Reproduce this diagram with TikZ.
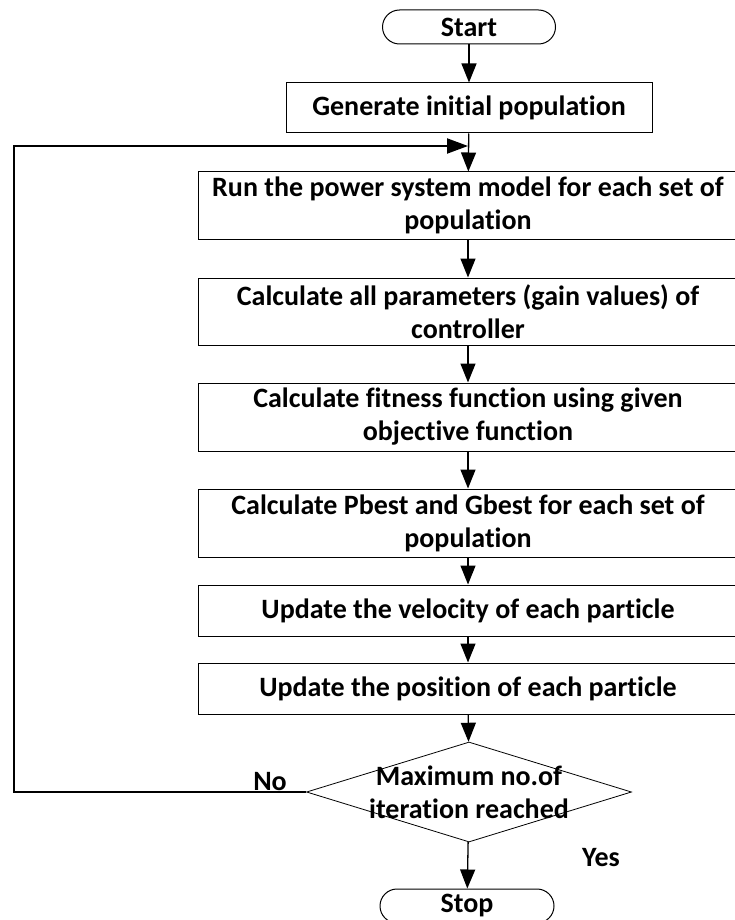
\documentclass[tikz,border=0pt]{standalone}
\usepackage{fontspec}
\setmainfont{Carlito}[RawFeature=-liga]
\usetikzlibrary{arrows.meta,shapes.geometric}
\tikzset{every node/.style={font=\fontsize{28}{33}\selectfont\bfseries},
  procbox/.style={draw, line width=1pt, minimum width=540pt, align=center, inner sep=0pt},
  termbox/.style={draw, line width=1pt, rounded corners=17pt, minimum height=34pt, inner sep=0pt},
  decbox/.style={draw, diamond, aspect=3.25, minimum width=325pt, minimum height=100pt, inner sep=0pt, line width=0.8pt},
  flowarrow/.style={line width=1.3pt, -{Triangle[width=15pt,length=19pt]}},
  looparrow/.style={line width=2pt, -{Triangle[width=15pt,length=21pt]}}}

\begin{document}
\begin{tikzpicture}[x=1pt,y=-1pt]
    \useasboundingbox (0,0) rectangle (735,920);
    % blocks
    \node[termbox, minimum width=173pt] (start) at (469,27) {Start};
    \node[procbox, minimum width=366pt, minimum height=50pt] (gen) at (469,108) {Generate initial population};
    \node[procbox, minimum height=67pt] (run) at (468,205.5) {Run the power system model for each set of\\population};
    \node[procbox, minimum height=67pt] (param) at (468,311.5) {Calculate all parameters (gain values) of\\controller};
    \node[procbox, minimum height=68pt] (fit) at (468,417) {Calculate fitness function using given\\objective function};
    \node[procbox, minimum height=68pt] (best) at (468,523) {Calculate Pbest and Gbest for each set of\\population};
    \node[procbox, minimum height=51pt] (vel) at (468,610.5) {Update the velocity of each particle};
    \node[procbox, minimum height=51pt] (pos) at (468,688.5) {Update the position of each particle};
    \node[decbox, label={[align=center]center:{Maximum no.of\\iteration reached}}] (dec) at (469,792) {};
    \node[termbox, minimum width=174pt] (stop) at (467,906) {Stop};
    \coordinate (loopin) at (468,146);
    % connectors
    \draw[flowarrow] (start) -- (gen);
    \draw[flowarrow] (gen) -- (run);
    \draw[flowarrow] (run) -- (param);
    \draw[flowarrow] (param) -- (fit);
    \draw[flowarrow] (fit) -- (best);
    \draw[flowarrow] (best) -- (vel);
    \draw[flowarrow] (vel) -- (pos);
    \draw[flowarrow] (pos) -- (dec);
    \draw[flowarrow] (dec) -- (stop);
    \draw[looparrow] (dec.west) -- (14,792) -- (14,146) -- (loopin);
    \node (no) at (270,782) {No};
    \node (yes) at (601,858) {Yes};
\end{tikzpicture}
\end{document}
